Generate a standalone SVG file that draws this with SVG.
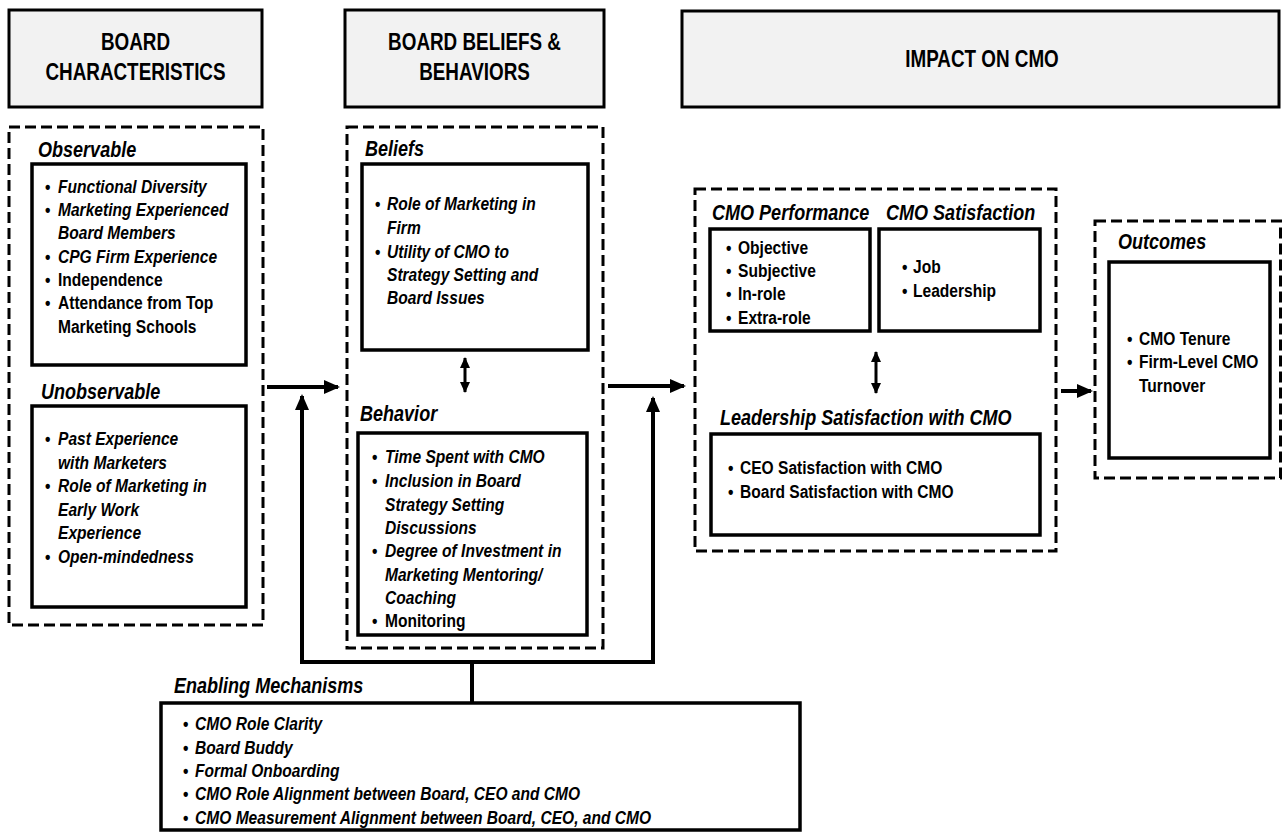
<svg xmlns="http://www.w3.org/2000/svg" width="1283" height="834" viewBox="0 0 1283 834">
<defs>
<style>
text{font-family:'Liberation Sans',Arial,sans-serif;font-weight:bold;fill:#000}
.h{font-size:23px;text-anchor:middle}
.l{font-size:22px;font-style:italic}
.t{font-size:19px}
.i{font-style:italic}
.hdr{fill:#f2f2f2;stroke:#000;stroke-width:3}
.dash{fill:none;stroke:#000;stroke-width:3;stroke-dasharray:11 5}
.box{fill:#fff;stroke:#000;stroke-width:3.5}
.ln{fill:none;stroke:#000;stroke-width:4}
.ln2{fill:none;stroke:#000;stroke-width:3}
</style>
<marker id="ah" markerUnits="userSpaceOnUse" markerWidth="16" markerHeight="16" viewBox="0 0 16 16" refX="14" refY="8" orient="auto"><path d="M0,1 L16,8 L0,15 Z" fill="#000"/></marker>
<marker id="as" markerUnits="userSpaceOnUse" markerWidth="11" markerHeight="11" viewBox="0 0 11 11" refX="10" refY="5.5" orient="auto-start-reverse"><path d="M0,0.5 L11,5.5 L0,10.5 Z" fill="#000"/></marker>
</defs>
<rect width="1283" height="834" fill="#fff"/>

<g id="hdr-board-characteristics">
<rect class="hdr" x="9" y="10" width="253" height="97"/>
<g transform="translate(135.5,0) scale(0.82,1)">
<text class="h" x="0" y="50">BOARD</text>
<text class="h" x="0" y="80">CHARACTERISTICS</text>
</g>
</g>
<g id="hdr-board-beliefs">
<rect class="hdr" x="345" y="10" width="259" height="97"/>
<g transform="translate(474.5,0) scale(0.82,1)">
<text class="h" x="0" y="50">BOARD BELIEFS &amp;</text>
<text class="h" x="0" y="80">BEHAVIORS</text>
</g>
</g>
<g id="hdr-impact">
<rect class="hdr" x="682" y="11" width="597" height="96"/>
<g transform="translate(982,0) scale(0.82,1)">
<text class="h" x="0" y="67">IMPACT ON CMO</text>
</g>
</g>

<g id="board-characteristics">
<rect class="dash" x="9" y="127" width="254" height="498"/>
<g transform="translate(38,0) scale(0.82,1)"><text class="l" x="0" y="157">Observable</text></g>
<rect class="box" x="32" y="164" width="214" height="201"/>
<g class="t" transform="translate(58,0) scale(0.82,1)">
<text x="-15.9" y="193">•</text><text class="i" x="0" y="193">Functional Diversity</text>
<text x="-15.9" y="216">•</text><text class="i" x="0" y="216">Marketing Experienced</text>
<text class="i" x="0" y="239">Board Members</text>
<text x="-15.9" y="263">•</text><text class="i" x="0" y="263">CPG Firm Experience</text>
<text x="-15.9" y="286">•</text><text x="0" y="286">Independence</text>
<text x="-15.9" y="309">•</text><text x="0" y="309">Attendance from Top</text>
<text x="0" y="333">Marketing Schools</text>
</g>
<g transform="translate(41,0) scale(0.82,1)"><text class="l" x="0" y="399">Unobservable</text></g>
<rect class="box" x="32" y="406" width="214" height="201"/>
<g class="t" transform="translate(58,0) scale(0.82,1)">
<text x="-15.9" y="445">•</text><text class="i" x="0" y="445">Past Experience</text>
<text class="i" x="0" y="469">with Marketers</text>
<text x="-15.9" y="492">•</text><text class="i" x="0" y="492">Role of Marketing in</text>
<text class="i" x="0" y="516">Early Work</text>
<text class="i" x="0" y="539">Experience</text>
<text x="-15.9" y="563">•</text><text class="i" x="0" y="563">Open-mindedness</text>
</g>
</g>

<g id="board-beliefs-behaviors">
<rect class="dash" x="347" y="127" width="256" height="521"/>
<g transform="translate(365,0) scale(0.82,1)"><text class="l" x="0" y="156">Beliefs</text></g>
<rect class="box" x="362" y="164" width="226" height="186"/>
<g class="t" transform="translate(387,0) scale(0.82,1)">
<text x="-14.6" y="210">•</text><text class="i" x="0" y="210">Role of Marketing in</text>
<text class="i" x="0" y="234">Firm</text>
<text x="-14.6" y="258">•</text><text class="i" x="0" y="258">Utility of CMO to</text>
<text class="i" x="0" y="281">Strategy Setting and</text>
<text class="i" x="0" y="304">Board Issues</text>
</g>
<g transform="translate(360,0) scale(0.82,1)"><text class="l" x="0" y="421">Behavior</text></g>
<rect class="box" x="358" y="433" width="229" height="202"/>
<g class="t" transform="translate(385,0) scale(0.82,1)">
<text x="-15.9" y="463">•</text><text class="i" x="0" y="463">Time Spent with CMO</text>
<text x="-15.9" y="487">•</text><text class="i" x="0" y="487">Inclusion in Board</text>
<text class="i" x="0" y="511">Strategy Setting</text>
<text class="i" x="0" y="534">Discussions</text>
<text x="-15.9" y="557">•</text><text class="i" x="0" y="557">Degree of Investment in</text>
<text class="i" x="0" y="581">Marketing Mentoring/</text>
<text class="i" x="0" y="604">Coaching</text>
<text x="-15.9" y="627">•</text><text x="0" y="627">Monitoring</text>
</g>
</g>

<g id="impact-on-cmo">
<rect class="dash" x="695" y="189" width="361" height="362"/>
<g transform="translate(712,0) scale(0.82,1)"><text class="l" x="0" y="220">CMO Performance</text></g>
<g transform="translate(886,0) scale(0.82,1)"><text class="l" x="0" y="220">CMO Satisfaction</text></g>
<rect class="box" x="710" y="229" width="160" height="102"/>
<g class="t" transform="translate(738,0) scale(0.82,1)">
<text x="-14.6" y="254">•</text><text x="0" y="254">Objective</text>
<text x="-14.6" y="277">•</text><text x="0" y="277">Subjective</text>
<text x="-14.6" y="300">•</text><text x="0" y="300">In-role</text>
<text x="-14.6" y="324">•</text><text x="0" y="324">Extra-role</text>
</g>
<rect class="box" x="879" y="229" width="161" height="102"/>
<g class="t" transform="translate(913,0) scale(0.82,1)">
<text x="-13.4" y="273">•</text><text x="0" y="273">Job</text>
<text x="-13.4" y="297">•</text><text x="0" y="297">Leadership</text>
</g>
<g transform="translate(720,0) scale(0.82,1)"><text class="l" x="0" y="425">Leadership Satisfaction with CMO</text></g>
<rect class="box" x="711" y="434" width="329" height="101"/>
<g class="t" transform="translate(740,0) scale(0.82,1)">
<text x="-14.6" y="474">•</text><text x="0" y="474">CEO Satisfaction with CMO</text>
<text x="-14.6" y="498">•</text><text x="0" y="498">Board Satisfaction with CMO</text>
</g>
</g>

<g id="outcomes">
<rect class="dash" x="1095" y="221" width="185.5" height="257"/>
<g transform="translate(1118,0) scale(0.82,1)"><text class="l" x="0" y="249">Outcomes</text></g>
<rect class="box" x="1109" y="262" width="161" height="196"/>
<g class="t" transform="translate(1139,0) scale(0.82,1)">
<text x="-14.6" y="345">•</text><text x="0" y="345">CMO Tenure</text>
<text x="-14.6" y="368">•</text><text x="0" y="368">Firm-Level CMO</text>
<text x="0" y="392">Turnover</text>
</g>
</g>

<g id="enabling-mechanisms">
<g transform="translate(174,0) scale(0.82,1)"><text class="l" x="0" y="693">Enabling Mechanisms</text></g>
<rect class="box" x="161" y="703" width="639" height="127"/>
<g class="t" transform="translate(195,0) scale(0.82,1)">
<text x="-14.6" y="730">•</text><text class="i" x="0" y="730">CMO Role Clarity</text>
<text x="-14.6" y="754">•</text><text class="i" x="0" y="754">Board Buddy</text>
<text x="-14.6" y="777">•</text><text class="i" x="0" y="777">Formal Onboarding</text>
<text x="-14.6" y="800">•</text><text class="i" x="0" y="800">CMO Role Alignment between Board, CEO and CMO</text>
<text x="-14.6" y="824">•</text><text class="i" x="0" y="824">CMO Measurement Alignment between Board, CEO, and CMO</text>
</g>
</g>

<g id="connectors">
<line class="ln" x1="267" y1="387" x2="338" y2="387" marker-end="url(#ah)"/>
<line class="ln" x1="608" y1="386" x2="684" y2="386" marker-end="url(#ah)"/>
<line class="ln" x1="1061" y1="391" x2="1091" y2="391" marker-end="url(#ah)"/>
<path class="ln" d="M302,662 L653,662"/>
<line class="ln" x1="302" y1="664" x2="302" y2="396" marker-end="url(#ah)"/>
<line class="ln" x1="653" y1="664" x2="653" y2="398" marker-end="url(#ah)"/>
<line class="ln" x1="472" y1="662" x2="472" y2="703"/>
<line class="ln2" x1="465" y1="358" x2="465" y2="392" marker-start="url(#as)" marker-end="url(#as)"/>
<line class="ln2" x1="876" y1="352" x2="876" y2="393" marker-start="url(#as)" marker-end="url(#as)"/>
</g>
</svg>
